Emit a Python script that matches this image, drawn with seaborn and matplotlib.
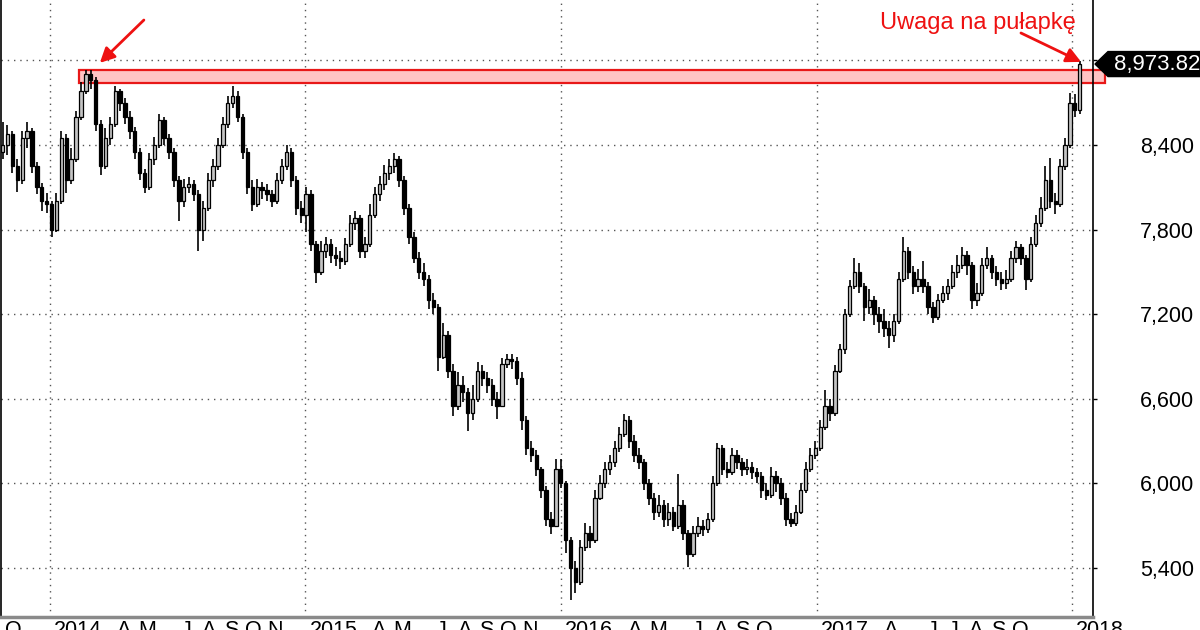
import matplotlib
matplotlib.use("Agg")
import matplotlib.pyplot as plt
import matplotlib.dates as mdates
import matplotlib.transforms as mtransforms
from matplotlib.patches import Polygon, Rectangle
import numpy as np
import pandas as pd
import seaborn as sns

# weekly candles (Friday closes), 2013-10-25 .. 2018-01-12
first_open = 8350
closes = [
    8400, 8480, 8250, 8150, 8450, 8500, 8250, 8100, 8000, 7980,  # 2013
    7800, 8000, 8450, 8150, 8300, 8600, 8780, 8900, 8860,  # 2014
    8550, 8250, 8450, 8550, 8780, 8700, 8600, 8500,
    8350, 8200, 8100, 8300, 8400, 8580, 8450, 8350, 8150,
    8000, 8100, 8120, 8050, 7800, 7950, 8150, 8250, 8400,
    8550, 8700, 8750, 8600, 8350, 8100, 7980, 8100, 8080,
    8050, 8000, 8150, 8250, 8350, 8150, 7950, 7900,
    8050, 7700, 7500, 7650, 7700, 7620, 7600, 7580, 7700,  # 2015
    7850, 7880, 7650, 7700, 7900, 8050, 8120, 8200,
    8250, 8300, 8150, 7950, 7750, 7600, 7500, 7450, 7300,
    7250, 6900, 7050, 6800, 6550, 6700, 6650, 6500, 6600,
    6800, 6750, 6700, 6600, 6550, 6850, 6880, 6870, 6750,
    6450, 6250, 6200, 6100, 5950, 5750, 5700, 6100,
    6000, 5600, 5400, 5300, 5550, 5650, 5600, 5900, 6000,  # 2016
    6100, 6150, 6250, 6350, 6450, 6300, 6200, 6150, 6000,
    5900, 5800, 5850, 5750, 5800, 5700, 5850, 5650,
    5500, 5650, 5700, 5680, 5750, 6000, 6250, 6100, 6080,
    6200, 6150, 6100, 6120, 6080, 6050, 5950, 5920, 6050,
    6000, 5900, 5750, 5720, 5800, 5950, 6100, 6200, 6250,
    6400, 6550, 6500, 6800, 6950, 7200, 7400, 7500,  # 2017
    7400, 7250, 7300, 7200, 7150, 7100, 7050, 7150, 7450,
    7650, 7500, 7400, 7450, 7400, 7250, 7180, 7300, 7350,
    7400, 7500, 7550, 7620, 7550, 7300, 7350, 7550,
    7600, 7500, 7450, 7420, 7450, 7600, 7680, 7600, 7450,
    7700, 7850, 7950, 8150, 8000, 7980, 8250, 8400, 8700,
    8650, 8973.82,  # 2018
]
highs = [
    8560, 8540, 8500, 8300, 8500, 8560, 8520, 8280, 8130, 8060,
    8000, 8060, 8500, 8480, 8380, 8640, 8850, 8935, 8930,
    8880, 8580, 8520, 8600, 8820, 8800, 8730, 8640,
    8530, 8380, 8230, 8340, 8460, 8620, 8600, 8480, 8380,
    8180, 8160, 8170, 8150, 8080, 8000, 8200, 8300, 8450,
    8600, 8750, 8820, 8780, 8620, 8380, 8150, 8160, 8140,
    8120, 8080, 8200, 8300, 8400, 8380, 8180, 8000,
    8100, 8080, 7720, 7720, 7750, 7730, 7680, 7650, 7740,
    7900, 7930, 7900, 7750, 7980, 8100, 8180, 8260,
    8300, 8340, 8320, 8180, 7980, 7780, 7640, 7560, 7480,
    7350, 7270, 7140, 7080, 6850, 6790, 6760, 6680, 6700,
    6860, 6840, 6790, 6740, 6650, 6890, 6920, 6920, 6900,
    6790, 6480, 6300, 6240, 6120, 5980, 5800, 6170,
    6170, 6020, 5620, 5450, 5600, 5720, 5700, 5950, 6060,
    6150, 6200, 6300, 6400, 6490, 6480, 6340, 6250, 6170,
    6030, 5930, 5920, 5880, 5860, 5830, 6070, 5880,
    5670, 5700, 5760, 5740, 5790, 6050, 6290, 6270, 6150,
    6250, 6240, 6180, 6170, 6150, 6110, 6080, 6000, 6120,
    6090, 6040, 5930, 5790, 5850, 6000, 6150, 6250, 6300,
    6450, 6660, 6600, 6840, 6990, 7240, 7440, 7600,
    7560, 7420, 7380, 7330, 7250, 7240, 7150, 7200, 7500,
    7750, 7680, 7540, 7520, 7580, 7430, 7290, 7340, 7400,
    7450, 7550, 7620, 7680, 7650, 7570, 7420, 7600,
    7680, 7620, 7540, 7500, 7510, 7650, 7720, 7700, 7620,
    7750, 7900, 8030, 8250, 8310, 8060, 8300, 8450, 8770,
    8760, 8995,
]
lows = [
    8300, 8330, 8200, 8070, 8120, 8380, 8200, 8050, 7930, 7920,
    7750, 7780, 7980, 8060, 8120, 8280, 8580, 8760, 8800,
    8500, 8190, 8230, 8400, 8530, 8640, 8550, 8440,
    8300, 8150, 8060, 8080, 8260, 8380, 8400, 8300, 8100,
    7860, 7960, 8060, 8000, 7650, 7720, 7930, 8100, 8220,
    8380, 8520, 8660, 8560, 8300, 8050, 7930, 7960, 8020,
    8000, 7960, 7980, 8120, 8220, 8100, 7900, 7850,
    7780, 7650, 7420, 7480, 7600, 7560, 7540, 7520, 7550,
    7680, 7800, 7600, 7600, 7680, 7880, 8000, 8080,
    8150, 8200, 8100, 7900, 7700, 7560, 7450, 7400, 7240,
    7200, 6800, 6880, 6750, 6480, 6520, 6580, 6370, 6450,
    6580, 6690, 6640, 6550, 6460, 6540, 6820, 6810, 6700,
    6380, 6200, 6150, 6050, 5900, 5700, 5640, 5690,
    5970, 5510, 5170, 5220, 5280, 5520, 5540, 5580, 5880,
    5970, 6060, 6120, 6220, 6330, 6250, 6150, 6100, 5950,
    5850, 5740, 5760, 5690, 5700, 5660, 5680, 5600,
    5410, 5480, 5620, 5630, 5650, 5730, 5980, 6060, 6040,
    6060, 6100, 6050, 6060, 6030, 6000, 5900, 5880, 5900,
    5940, 5850, 5700, 5690, 5700, 5780, 5930, 6080, 6170,
    6230, 6380, 6440, 6480, 6780, 6920, 7180, 7380,
    7350, 7150, 7200, 7120, 7070, 7040, 6960, 7000, 7130,
    7430, 7450, 7340, 7360, 7350, 7200, 7140, 7160, 7280,
    7300, 7380, 7460, 7520, 7480, 7240, 7260, 7330,
    7520, 7450, 7400, 7370, 7380, 7430, 7560, 7550, 7370,
    7430, 7680, 7820, 7930, 7950, 7910, 7960, 8220, 8380,
    8600, 8620,
]
week_ends = pd.date_range("2013-10-25", periods=len(closes), freq="W-FRI")

# month labels under the axis (as the platform shows them)
tick_dates = ["2013-10-22", "2014-01-01", "2014-04-01", "2014-05-01", "2014-07-01",
              "2014-08-01", "2014-09-01", "2014-10-01", "2014-11-01", "2015-01-01",
              "2015-04-01", "2015-05-01", "2015-07-01", "2015-08-01", "2015-09-01",
              "2015-10-01", "2015-11-01", "2016-01-01", "2016-04-01", "2016-05-01",
              "2016-07-01", "2016-08-01", "2016-09-01", "2016-10-01", "2017-01-01",
              "2017-04-01", "2017-06-01", "2017-07-01", "2017-08-01", "2017-09-01",
              "2017-10-01", "2018-01-01"]
tick_labels = ["O", "2014", "A", "M", "J", "A", "S", "O", "N", "2015",
               "A", "M", "J", "A", "S", "O", "N", "2016", "A", "M",
               "J", "A", "S", "O", "2017", "A", "J", "J", "A", "S",
               "O", "2018"]
year_lines = ["2014-01-01", "2015-01-01", "2016-01-01", "2017-01-01", "2018-01-01"]
price_ticks = [5400, 6000, 6600, 7200, 7800, 8400, 9000]
last_price = 8973.82

zone = ("2014-02-11", "2018-02-17", 8840, 8932)
note = "Uwaga na pułapkę"
note_pos = ("2018-01-07", 9262)
arrow_left = (("2014-05-15", 9286), ("2014-03-13", 8982))
arrow_right = (("2017-10-20", 9194), ("2018-01-14", 8989))

sns.set_theme(style="white")
plt.rcParams["font.family"] = ["Liberation Sans", "DejaVu Sans"]

df = pd.DataFrame({"date": week_ends, "close": closes, "high": highs, "low": lows})
df["open"] = [first_open] + closes[:-1]
df["up"] = df["close"] >= df["open"]

fig = plt.figure(figsize=(12, 6.3), dpi=100)
ax = fig.add_axes([0.5 / 1200, 13 / 630, 1092.5 / 1200, 617 / 630])

# candles
ax.vlines(df["date"], df["low"], df["high"], color="black", linewidth=1.2, zorder=3)
body_low = np.minimum(df["open"], df["close"])
body_h = np.maximum((df["close"] - df["open"]).abs(), 12)
ax.bar(df["date"], body_h, bottom=body_low, width=4.8,
       color=np.where(df["up"], "#c4c4c4", "black"), edgecolor="black",
       linewidth=0.9, zorder=4)

ax.set_xlim(pd.Timestamp("2013-10-22"), pd.Timestamp("2018-01-31"))
ax.set_ylim(5053, 9428)

# grid
grid_kw = dict(color="#555555", linestyle=(0, (1, 3.5)), linewidth=1.0, zorder=1)
for v in price_ticks:
    ax.axhline(v, **grid_kw)
for d in year_lines:
    ax.axvline(pd.Timestamp(d), **grid_kw)

# y axis on the right
ax.yaxis.tick_right()
ax.set_yticks(price_ticks)
ax.set_yticklabels(["" if abs(v - last_price) < 300 else f"{v:,}" for v in price_ticks])
ax.tick_params(axis="y", direction="out", length=3, width=1, color="black",
               labelsize=15.5, pad=31, labelcolor="black")

# x axis: separators as ticks, labels left-aligned after them
tick_dt = pd.to_datetime(tick_dates)
ax.set_xticks(tick_dt)
ax.set_xticklabels([""] * len(tick_dt))
ax.tick_params(axis="x", direction="out", length=14, width=1, color="#333333")
lab_trans = ax.get_xaxis_transform() + mtransforms.ScaledTranslation(
    4 / 100, -3 / 100, fig.dpi_scale_trans)
for d, lab in zip(tick_dt, tick_labels):
    ax.text(d, 0, lab, transform=lab_trans, ha="left", va="top",
            fontsize=15.5, color="black", clip_on=False)

sns.despine(ax=ax, top=True, right=False, left=False, bottom=False)
ax.spines["left"].set_color("black")
ax.spines["left"].set_linewidth(1.2)
ax.spines["right"].set_color("black")
ax.spines["right"].set_linewidth(1.2)
ax.spines["bottom"].set_color("#8a8a8a")
ax.spines["bottom"].set_linewidth(2.5)

# resistance zone
z0, z1 = mdates.date2num(pd.Timestamp(zone[0])), mdates.date2num(pd.Timestamp(zone[1]))
ax.add_patch(Rectangle((z0, zone[2]), z1 - z0, zone[3] - zone[2],
                       facecolor="#ffc4c4", edgecolor="#e81818", linewidth=1.6,
                       clip_on=False, zorder=2))

# arrows and note
for (t_d, t_v), (h_d, h_v) in (arrow_left, arrow_right):
    ax.annotate("", xy=(mdates.date2num(pd.Timestamp(h_d)), h_v),
                xytext=(mdates.date2num(pd.Timestamp(t_d)), t_v),
                arrowprops=dict(arrowstyle="-|>", color="#ee1111", lw=2,
                                mutation_scale=22, shrinkA=0, shrinkB=0),
                annotation_clip=False, zorder=6)
ax.text(mdates.date2num(pd.Timestamp(note_pos[0])), note_pos[1], note,
        ha="right", va="center", fontsize=17, color="#ee1111")

# last price tag
anchor = mtransforms.blended_transform_factory(ax.transAxes, ax.transData)
tag_trans = fig.dpi_scale_trans + mtransforms.ScaledTranslation(1.0, last_price, anchor)
ax.add_patch(Polygon([(0.02, 0), (0.15, 0.125), (1.3, 0.125), (1.3, -0.125), (0.15, -0.125)],
                     closed=True, facecolor="black", edgecolor="black",
                     transform=tag_trans, clip_on=False, zorder=7))
ax.text(0.21, 0, f"{last_price:,.2f}", transform=tag_trans, ha="left", va="center",
        fontsize=16, color="white", zorder=8, clip_on=False)

fig.savefig("out.png", dpi=100)
